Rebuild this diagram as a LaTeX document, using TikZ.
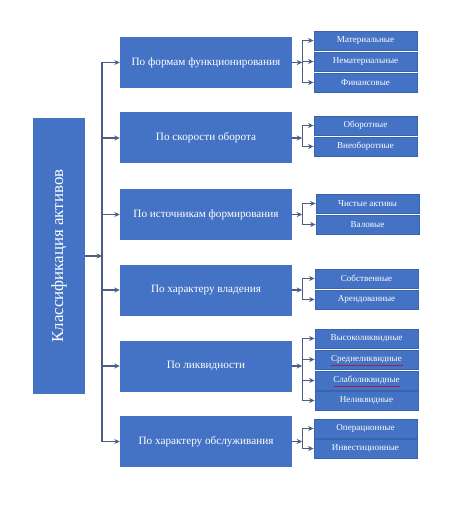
\documentclass[tikz,border=0pt]{standalone}
\usepackage{fontspec}
\setmainfont{Liberation Serif}
\usetikzlibrary{arrows.meta}
\definecolor{boxblue}{HTML}{4472C4}
\definecolor{boxedge}{HTML}{3A63AE}
\definecolor{conn}{HTML}{4A5F82}
\definecolor{spell}{HTML}{A02048}
\begin{document}
\begin{tikzpicture}[x=1bp,y=-1bp,
  mainbox/.style={fill=boxblue,draw=none,inner sep=0pt,minimum width=52bp,minimum height=276bp,text=white},
  midbox/.style={fill=boxblue,draw=none,inner sep=0pt,minimum width=172bp,minimum height=51bp,text=white,font=\fontsize{11.2bp}{13bp}\selectfont},
  leafbox/.style={fill=boxblue,draw=boxedge,line width=0.8bp,inner sep=0pt,minimum width=103bp,minimum height=19bp,text=white,font=\fontsize{9.1bp}{11bp}\selectfont},
  conline/.style={draw=conn,line width=1.1bp},
  arr/.style={conline,-{Stealth[length=5.5bp,width=5bp]}}
]
\useasboundingbox (0,0) rectangle (474,515);
% main box
\node[mainbox] (main) at (59,256) {};
\node[text=white,rotate=90,font=\fontsize{16.9bp}{19bp}\selectfont] (maintxt) at (main.center) {Классификация активов};
% middle boxes
\node[midbox] (m1) at (206,62.5) {По формам функционирования};
\node[midbox] (m2) at (206,138) {По скорости оборота};
\node[midbox] (m3) at (206,214.5) {По источникам формирования};
\node[midbox] (m4) at (206,290) {По характеру владения};
\node[midbox] (m5) at (206,366) {По ликвидности};
\node[midbox] (m6) at (206,441.5) {По характеру обслуживания};
% leaves
\node[leafbox] (a1) at (365.5,40.5) {Материальные};
\node[leafbox] (a2) at (365.5,61.5) {Нематериальные};
\node[leafbox] (a3) at (365.5,82.5) {Финансовые};
\node[leafbox] (b1) at (365.5,125.5) {Оборотные};
\node[leafbox] (b2) at (365.5,146.5) {Внеоборотные};
\node[leafbox] (c1) at (367.5,203.5) {Чистые активы};
\node[leafbox] (c2) at (367.5,224.5) {Валовые};
\node[leafbox] (d1) at (366.5,278.5) {Собственные};
\node[leafbox] (d2) at (366.5,299.5) {Арендованные};
\node[leafbox] (e1) at (366.5,338.5) {Высоколиквидные};
\node[leafbox] (e2) at (366.5,359.5) {Среднеликвидные};
\node[leafbox] (e3) at (366.5,380.5) {Слаболиквидные};
\node[leafbox] (e4) at (366.5,400.5) {Неликвидные};
\node[leafbox] (f1) at (365.5,428.5) {Операционные};
\node[leafbox] (f2) at (365.5,448.5) {Инвестиционные};
% spell-check underlines
\draw[spell,line width=0.8bp] ([xshift=-36bp,yshift=-5.5bp]e2.center) -- ([xshift=36bp,yshift=-5.5bp]e2.center);
\draw[spell,line width=0.8bp] ([xshift=-33bp,yshift=-5.5bp]e3.center) -- ([xshift=33bp,yshift=-5.5bp]e3.center);
% trunk
\coordinate (tt) at (102,62.5);
\coordinate (tb) at (102,441.5);
\coordinate (tm) at (102,256);
\draw[conline] (tt) -- (tb);
\draw[arr] (main.east) -- (tm);
\foreach \m in {m1,m2,m3,m4,m5,m6}{
  \draw[arr] (tt |- \m.west) -- (\m.west);
}
% branch junctions
\foreach \m/\first/\last/\kids in {m1/a1/a3/{a1,a2,a3}, m2/b1/b2/{b1,b2}, m3/c1/c2/{c1,c2}, m4/d1/d2/{d1,d2}, m5/e1/e4/{e1,e2,e3,e4}, m6/f1/f2/{f1,f2}}{
  \coordinate (j\m) at ([xshift=10bp]\m.east);
  \draw[arr] (\m.east) -- (j\m);
  \draw[conline] (j\m |- \first.west) -- (j\m |- \last.west);
  \foreach \k in \kids {
    \draw[arr] (j\m |- \k.west) -- (\k.west);
  }
}
\end{tikzpicture}
\end{document}
